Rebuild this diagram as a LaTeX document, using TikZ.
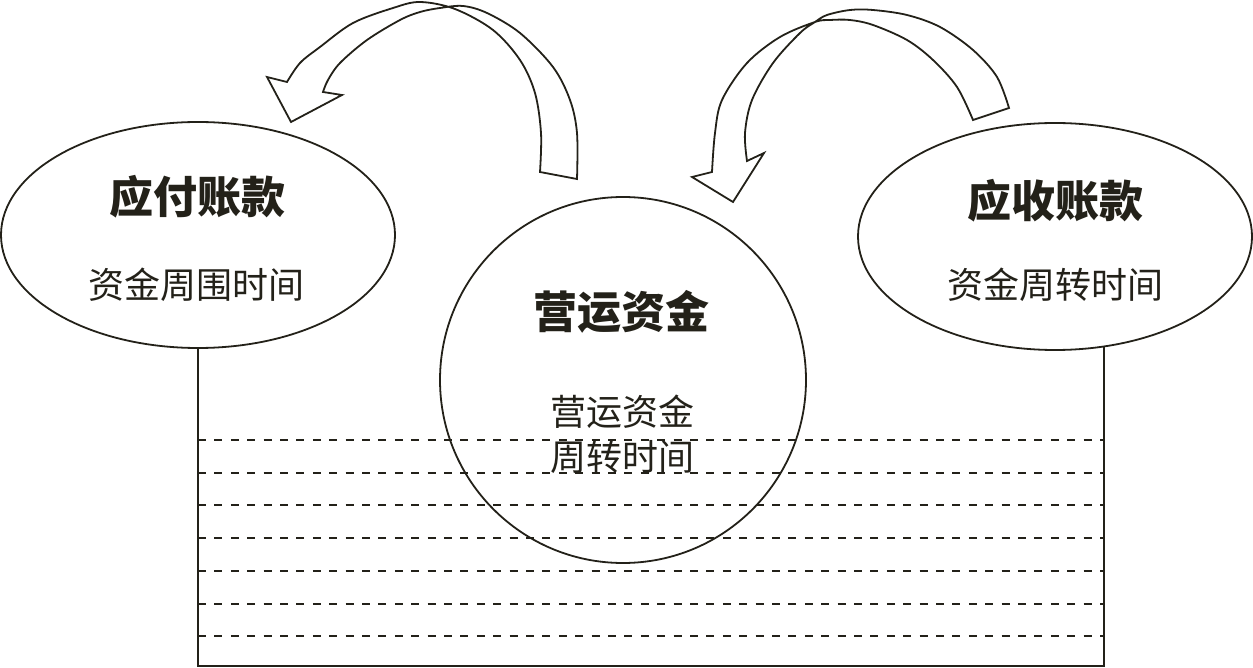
\documentclass[tikz,border=0pt]{standalone}
\usepackage{fontspec}
\newfontfamily\cjk{Noto Sans CJK SC}
\usetikzlibrary{shapes.geometric}
\definecolor{ink}{RGB}{35,33,25}
\begin{document}
\begin{tikzpicture}[x=1pt,y=-1pt,
  outline/.style={draw=ink, line width=1.8pt, line join=miter},
  dashline/.style={draw=ink, line width=2pt, dash pattern=on 8pt off 8.4pt},
  titletext/.style={font=\cjk\bfseries\fontsize{44}{48}\selectfont, text=ink, inner sep=0pt},
  bodytext/.style={font=\cjk\fontsize{36}{45}\selectfont, text=ink, inner sep=0pt, align=center}]
\useasboundingbox (0,0) rectangle (1253,668);

% frame with dashed lines
\coordinate (bl) at (198,666);
\coordinate (br) at (1104,666);
\coordinate (rt) at (1104,345.5);
\foreach \yy in {440,472.7,505.4,538.1,570.8,603.5,636.2}
  \draw[dashline] (bl |- 0,\yy) -- (br |- 0,\yy);

% shapes
\node[outline, ellipse, minimum width=394pt, minimum height=226pt, inner sep=0pt] (ap) at (198,235) {};
\node[outline, ellipse, minimum width=394pt, minimum height=227pt, inner sep=0pt] (ar) at (1055,236.5) {};
\node[outline, circle, minimum size=366pt, inner sep=0pt] (wc) at (623,380) {};

\draw[outline, line width=2pt] (ap.south) -- (bl) -- (br) -- (rt);

% texts
\node[titletext] (apt) at (197,197) {应付账款};
\node[bodytext] (apb) at (196,285) {资金周围时间};
\node[titletext] (art) at (1055,201) {应收账款};
\node[bodytext] (arb) at (1055,285) {资金周转时间};
\node[titletext] (wct) at (621.5,312) {营运资金};
\node[bodytext] (wcb) at (622,434) {营运资金\\周转时间};

% left curved arrow (twisted band)
\draw[outline] plot[smooth, tension=0.55] coordinates {(540,172) (541,133) (535,93) (520,60) (493,30) (455,9) (420,2) (393,8) (353,23) (320,47) (300,63) (287,82)}
  -- (267,77) -- (291,122) -- (342,95) --
  plot[smooth, tension=0.55] coordinates {(323,92) (328,80) (340,63) (367,40) (400,20) (420,12) (440,8) (463,6) (487,13) (520,33) (553,67) (570,100) (577,133) (577,179)}
  -- cycle;

% right curved arrow (twisted band)
\draw[outline] plot[smooth, tension=0.55] coordinates {(1009,108) (997,77) (973,50) (940,27) (907,15) (873,10) (850,10) (827,15) (815,22) (800,33) (773,63) (752,100) (745,133) (747,161)}
  -- (764,153) -- (733,202) -- (692,177) --
  plot[smooth, tension=0.55] coordinates {(712,172) (715,133) (722,100) (747,63) (780,37) (815,22) (830,20) (850,20) (873,25) (907,40) (933,60) (957,87) (973,120)}
  -- cycle;
\end{tikzpicture}
\end{document}
